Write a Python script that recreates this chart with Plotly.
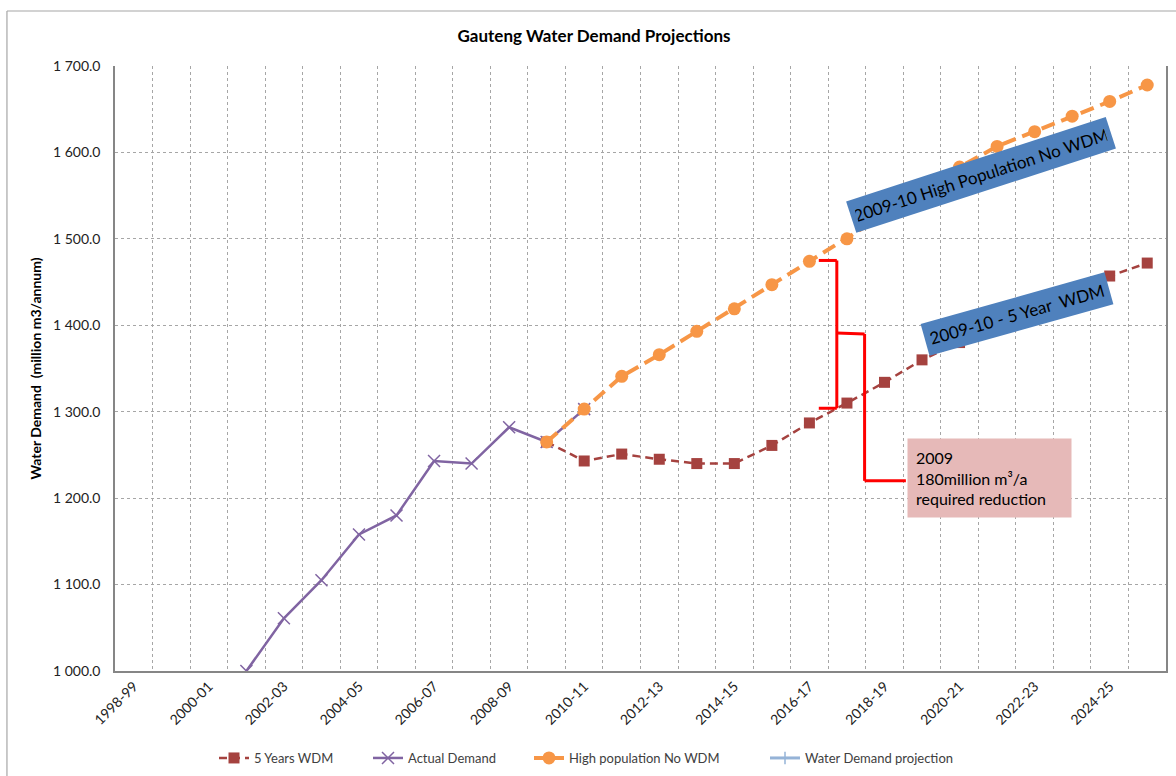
import plotly.graph_objects as go

# Financial years on the category axis
years = [
    "1998-99", "1999-00", "2000-01", "2001-02", "2002-03", "2003-04", "2004-05",
    "2005-06", "2006-07", "2007-08", "2008-09", "2009-10", "2010-11", "2011-12",
    "2012-13", "2013-14", "2014-15", "2015-16", "2016-17", "2017-18", "2018-19",
    "2019-20", "2020-21", "2021-22", "2022-23", "2023-24", "2024-25", "2025-26",
]

# Water demand, million m3/annum
actual_demand = [
    None, None, None, 1000, 1061, 1105, 1158, 1180, 1243, 1240, 1282, 1265, 1303,
    None, None, None, None, None, None, None, None, None, None, None, None, None, None, None,
]
wdm_5yr = [
    None, None, None, None, None, None, None, None, None, None, None,
    1265, 1243, 1251, 1245, 1240, 1240, 1261, 1287, 1310, 1334, 1360,
    1380, 1399, 1418, 1438, 1457, 1472,
]
high_pop_no_wdm = [
    None, None, None, None, None, None, None, None, None, None, None,
    1265, 1303, 1341, 1366, 1393, 1419, 1447, 1474, 1500, 1528, 1556,
    1583, 1607, 1624, 1642, 1659, 1678,
]

y_ticks = [1000, 1100, 1200, 1300, 1400, 1500, 1600, 1700]
x_ticktext = [y if i % 2 == 0 else "" for i, y in enumerate(years)]

FONT = "Lato, Carlito, 'Open Sans', sans-serif"
C_WDM = "#A5423F"
C_ACT = "#8064A2"
C_HIGH = "#F79646"
C_PROJ = "#95B3D7"
GRID = "#A6A6A6"

fig = go.Figure()

fig.add_trace(go.Scatter(
    x=years, y=wdm_5yr, name="5 Years WDM", mode="lines+markers",
    line=dict(color=C_WDM, width=2.5, dash="8px,5px"),
    marker=dict(symbol="square", size=11, color=C_WDM),
    legend="legend", showlegend=True,
))
fig.add_trace(go.Scatter(
    x=years, y=actual_demand, name="Actual Demand", mode="lines+markers",
    line=dict(color=C_ACT, width=2.5),
    marker=dict(symbol="x-thin-open", size=12, line=dict(color=C_ACT, width=1.5)),
    legend="legend2",
))
fig.add_trace(go.Scatter(
    x=years, y=high_pop_no_wdm, name="High population No WDM", mode="lines+markers",
    line=dict(color=C_HIGH, width=4, dash="14px,7px"),
    marker=dict(symbol="circle", size=13, color=C_HIGH),
    legend="legend3",
))
fig.add_trace(go.Scatter(
    x=[years[0]], y=[None], name="Water Demand projection", mode="lines+markers",
    line=dict(color=C_PROJ, width=3),
    marker=dict(symbol="line-ns-open", size=9, line=dict(color="#7F9FD0", width=1.5)),
    legend="legend4",
))

# Red brace linking the two projections in 2016-17
red = dict(color="#FF0000", width=3)
brace = [
    (18.25, 1475, 18.73, 1475),
    (18.73, 1475, 18.73, 1304),
    (18.73, 1304, 18.25, 1304),
    (18.73, 1391, 19.47, 1390),
    (19.47, 1390, 19.47, 1220),
    (19.47, 1220, 20.57, 1220),
]
shapes = [
    dict(type="line", xref="x", yref="y", x0=a, y0=b, x1=c, y1=d, line=red)
    for a, b, c, d in brace
]

# Chart-area frame (left and top edges)
shapes.append(dict(type="line", xref="paper", yref="paper",
                   x0=-0.1028, y0=1.0909, x1=1.02, y1=1.0909,
                   line=dict(color="#A6A6A6", width=1.2)))
shapes.append(dict(type="line", xref="paper", yref="paper",
                   x0=-0.1028, y0=1.0909, x1=-0.1028, y1=-0.2,
                   line=dict(color="#A6A6A6", width=1.2)))

annotations = [
    dict(text="2009-10 High Population No WDM", x=22.57, y=1574, xref="x", yref="y",
         showarrow=False, textangle=-18, bgcolor="#4F81BD", borderpad=5,
         width=262, height=22, font=dict(family=FONT, size=17, color="#000000"),
         xanchor="center", yanchor="middle"),
    dict(text="2009-10 - 5 Year&nbsp; WDM", x=23.54, y=1413, xref="x", yref="y",
         showarrow=False, textangle=-15.7, bgcolor="#4F81BD", borderpad=5,
         width=180, height=22, font=dict(family=FONT, size=17, color="#000000"),
         xanchor="center", yanchor="middle"),
    dict(text="2009<br>180million m³/a<br>required reduction", x=22.79, y=1223,
         xref="x", yref="y", showarrow=False, bgcolor="#E6B9B8", borderpad=8,
         width=147, height=62, align="left",
         font=dict(family=FONT, size=16, color="#000000"),
         xanchor="center", yanchor="middle"),
]

legend_common = dict(orientation="h", yanchor="middle", y=-0.1438, xanchor="left",
                     bgcolor="rgba(0,0,0,0)",
                     font=dict(family=FONT, size=13, color="#404040"))

fig.update_layout(
    width=1176, height=776,
    margin=dict(l=115, r=10, t=66, b=105, autoexpand=False),
    paper_bgcolor="white", plot_bgcolor="white",
    separators=". ",
    showlegend=True,
    font=dict(family=FONT, color="#222222"),
    title=dict(text="<b>Gauteng Water Demand Projections</b>",
               x=594 / 1176, xanchor="center", y=1 - 36 / 776, yanchor="middle",
               font=dict(family=FONT, size=17, color="#000000")),
    legend=dict(x=(214 - 115) / 1051, **legend_common),
    legend2=dict(x=(368 - 115) / 1051, **legend_common),
    legend3=dict(x=(529 - 115) / 1051, **legend_common),
    legend4=dict(x=(765 - 115) / 1051, **legend_common),
    shapes=shapes,
    annotations=annotations,
)

fig.update_xaxes(
    type="category", categoryorder="array", categoryarray=years,
    range=[-0.5, len(years) - 0.5],
    tickmode="array", tickvals=years, ticktext=x_ticktext, tickangle=-45,
    tickson="boundaries", ticks="",
    showgrid=True, gridcolor=GRID, griddash="dot", gridwidth=1,
    showline=True, linecolor="#868686", linewidth=1.5,
    tickfont=dict(family=FONT, size=14, color="#222222"),
    automargin=False, zeroline=False,
)
fig.update_yaxes(
    range=[1000, 1700], tickmode="array", tickvals=y_ticks, tickformat=",.1f",
    showgrid=True, gridcolor=GRID, griddash="dot", gridwidth=1,
    showline=True, linecolor="#868686", linewidth=1.5, mirror=True,
    ticks="", ticklabelstandoff=10,
    tickfont=dict(family=FONT, size=14, color="#222222"),
    title=dict(text="<b>Water Demand  (million m3/annum)</b>", standoff=8,
               font=dict(family=FONT, size=14, color="#000000")),
    automargin=False, zeroline=False,
)

fig.write_html("out.html")
